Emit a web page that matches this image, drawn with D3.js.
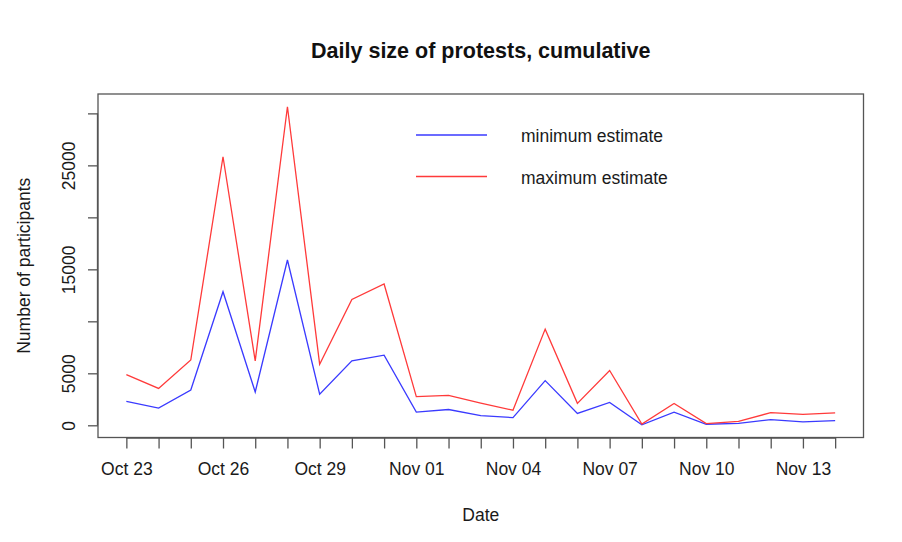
<!DOCTYPE html>
<html>
<head>
<meta charset="utf-8">
<script src="https://cdn.jsdelivr.net/npm/d3@7"></script>
<style>
  html, body { margin: 0; padding: 0; background: #fff; }
  svg { display: block; font-family: "Liberation Sans", Arial, Helvetica, sans-serif; }
</style>
</head>
<body>
<div id="chart"></div>
<script>
// ---- data ----
const dates = [
  "2019-10-23","2019-10-24","2019-10-25","2019-10-26","2019-10-27","2019-10-28",
  "2019-10-29","2019-10-30","2019-10-31","2019-11-01","2019-11-02","2019-11-03",
  "2019-11-04","2019-11-05","2019-11-06","2019-11-07","2019-11-08","2019-11-09",
  "2019-11-10","2019-11-11","2019-11-12","2019-11-13","2019-11-14"
];
const minEstimate = [
  2300, 1650, 3400, 12850, 3200, 15900, 3000, 6200, 6750,
  1270, 1520, 930, 740, 4300, 1140, 2200, 50, 1270,
  100, 190, 550, 330, 450
];
const maxEstimate = [
  4870, 3550, 6280, 25830, 6190, 30640, 5870, 12110, 13590,
  2760, 2870, 2140, 1450, 9250, 2110, 5270, 120, 2100,
  160, 370, 1220, 1060, 1200
];
const xTickDates = ["2019-10-23","2019-10-26","2019-10-29","2019-11-01","2019-11-04","2019-11-07","2019-11-10","2019-11-13"];
const yTicks = [0, 5000, 10000, 15000, 20000, 25000, 30000];
const yTickLabels = ["0", "5000", "", "15000", "", "25000", ""];
const seriesNames = ["minimum estimate", "maximum estimate"];
const seriesColors = ["#3a3aff", "#ff3a3a"];

// ---- layout ----
const W = 902, H = 542;
const plot = { left: 98, right: 863.5, top: 94, bottom: 437.5 };
const parse = d3.utcParse("%Y-%m-%d");
const dt = dates.map(parse);
const fs = "17.5px";

const svg = d3.select("#chart").append("svg").attr("width", W).attr("height", H);

// R-style 4% expansion
const xMin = dt[0].getTime(), xMax = dt[dt.length - 1].getTime();
const xPad = (xMax - xMin) * 0.04;
const x = d3.scaleUtc().domain([new Date(xMin - xPad), new Date(xMax + xPad)]).range([plot.left, plot.right]);

const allVals = minEstimate.concat(maxEstimate);
const yLo = d3.min(allVals), yHi = d3.max(allVals);
const yPad = (yHi - yLo) * 0.04;
const y = d3.scaleLinear().domain([yLo - yPad, yHi + yPad]).range([plot.bottom, plot.top]);

const axisColor = "#555";
const textColor = "#1a1a1a";

// lines
const line = d3.line().x((d, i) => x(dt[i])).y(d => y(d));
[minEstimate, maxEstimate].forEach((s, k) => {
  svg.append("path").datum(s)
    .attr("fill", "none")
    .attr("stroke", seriesColors[k])
    .attr("stroke-width", 1.3)
    .attr("stroke-linejoin", "miter")
    .attr("d", line);
});

// box
svg.append("rect")
  .attr("x", plot.left).attr("y", plot.top)
  .attr("width", plot.right - plot.left).attr("height", plot.bottom - plot.top)
  .attr("fill", "none").attr("stroke", axisColor).attr("stroke-width", 1.3);

// x axis
const xAxis = d3.axisBottom(x)
  .tickValues(dt)
  .tickSize(11)
  .tickPadding(14)
  .tickFormat(d => {
    const s = d3.utcFormat("%Y-%m-%d")(d);
    return xTickDates.includes(s) ? d3.utcFormat("%b %d")(d) : "";
  });
const gx = svg.append("g").attr("transform", `translate(0,${plot.bottom})`).call(xAxis);
gx.select(".domain").attr("d", `M${x(dt[0])},0.5H${x(dt[dt.length-1])}`).attr("stroke", axisColor).attr("stroke-width", 1.3);
gx.selectAll(".tick line").attr("stroke", axisColor).attr("stroke-width", 1.3);
gx.selectAll(".tick text").attr("fill", textColor).style("font-size", fs);

// y axis
const yAxis = d3.axisLeft(y)
  .tickValues(yTicks)
  .tickSize(10)
  .tickPadding(0)
  .tickFormat((d, i) => yTickLabels[i]);
const gy = svg.append("g").attr("transform", `translate(${plot.left},0)`).call(yAxis);
gy.select(".domain").attr("d", `M-0.5,${y(yTicks[0])}V${y(yTicks[yTicks.length-1])}`).attr("stroke", axisColor).attr("stroke-width", 1.3);
gy.selectAll(".tick line").attr("stroke", axisColor).attr("stroke-width", 1.3);
gy.selectAll(".tick text")
  .attr("fill", textColor)
  .style("font-size", fs)
  .attr("x", null).attr("dy", null)
  .attr("text-anchor", "middle")
  .attr("transform", "translate(-23,0) rotate(-90)");

// title
svg.append("text")
  .attr("x", (plot.left + plot.right) / 2).attr("y", 58)
  .attr("text-anchor", "middle")
  .attr("font-weight", "bold")
  .style("font-size", "21.5px")
  .attr("fill", "#111")
  .text("Daily size of protests, cumulative");

// axis titles
svg.append("text")
  .attr("x", (plot.left + plot.right) / 2).attr("y", 521)
  .attr("text-anchor", "middle")
  .style("font-size", fs)
  .attr("fill", textColor)
  .text("Date");
svg.append("text")
  .attr("transform", `translate(30,${(plot.top + plot.bottom) / 2}) rotate(-90)`)
  .attr("text-anchor", "middle")
  .style("font-size", fs)
  .attr("fill", textColor)
  .text("Number of participants");

// legend
const leg = svg.append("g");
seriesNames.forEach((name, k) => {
  const ly = 135 + k * 41.5;
  leg.append("line")
    .attr("x1", 416).attr("x2", 487).attr("y1", ly).attr("y2", ly)
    .attr("stroke", seriesColors[k]).attr("stroke-width", 1.3);
  leg.append("text")
    .attr("x", 521).attr("y", ly + 7)
    .style("font-size", fs)
    .attr("fill", textColor)
    .text(name);
});
</script>
</body>
</html>
